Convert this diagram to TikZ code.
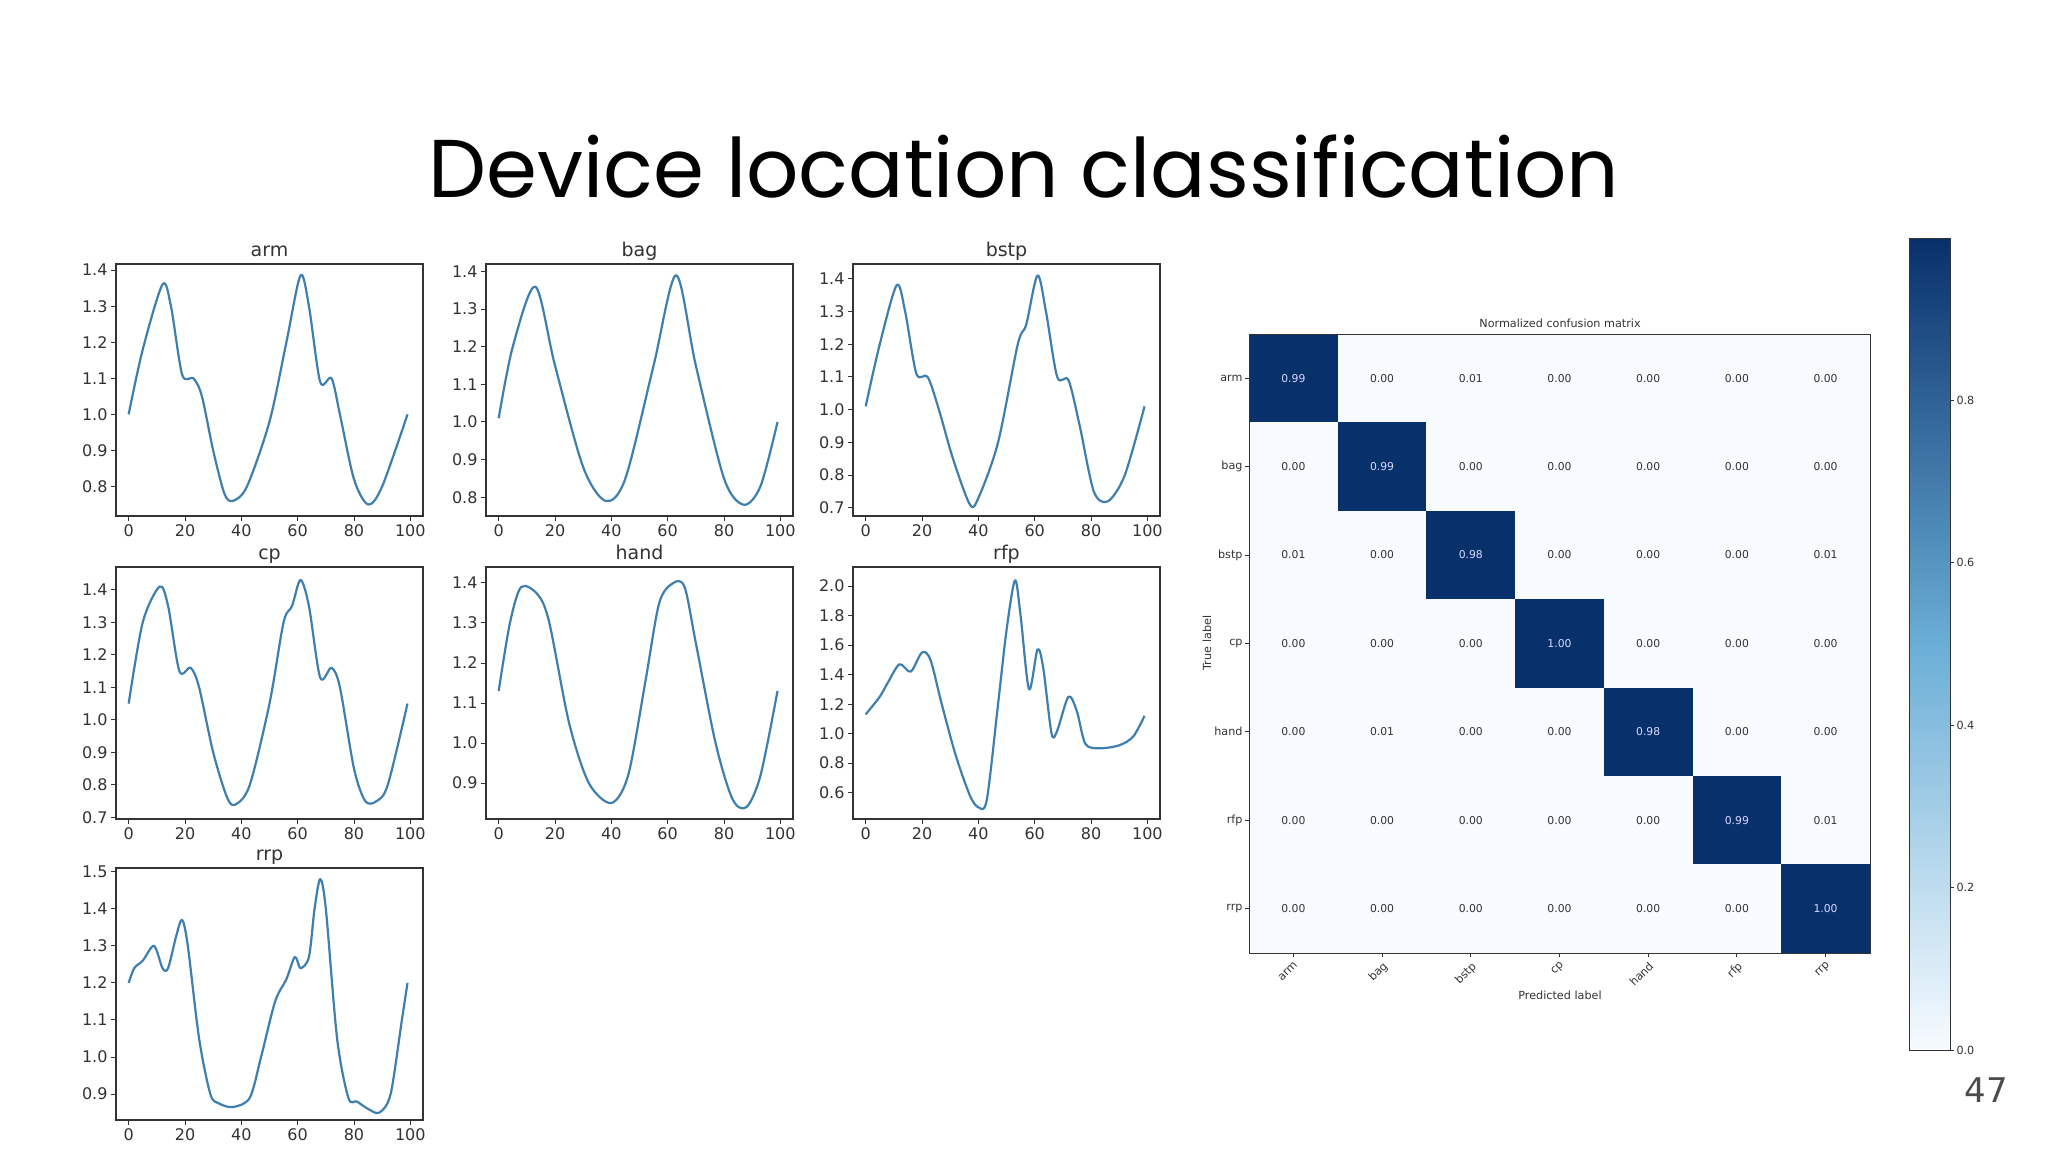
\documentclass[tikz,border=0pt]{standalone}
\usepackage{fontspec}
\setmainfont{DejaVu Sans}
\newfontfamily\titlefont{Poppins}
\definecolor{curvec}{HTML}{3F7FAF}
\definecolor{axc}{HTML}{333333}
\definecolor{bdark}{HTML}{08306B}
\definecolor{bmid}{HTML}{6AAED6}
\definecolor{blight}{HTML}{F7FBFF}
\tikzset{
  axisframe/.style={draw=axc,line width=0.6pt},
  tickln/.style={draw=axc,line width=0.5pt},
  ticklab/.style={font=\fontsize{8}{9}\selectfont,text=axc,inner sep=1.5pt},
  ptitle/.style={font=\fontsize{9.5}{10}\selectfont,text=axc,inner sep=1.5pt,anchor=south,text height=7pt,text depth=2pt},
  curve/.style={draw=curvec,line width=1.1pt,line join=round},
  cmlab/.style={font=\fontsize{5.6}{6}\selectfont,text=axc,inner sep=1pt},
  cmval/.style={font=\fontsize{5.4}{6}\selectfont,text=axc},
  cmdiag/.style={font=\fontsize{5.4}{6}\selectfont,text=blue!15!white},
}
\newcommand\panel[7]{%
  \draw[axisframe] (#1,#2) rectangle ++(307,252);
  \node[ptitle] (t#6) at (#1+153.5,#2) {#6};
  \pgfmathsetmacro\sx{307/109*0.5}
  \pgfmathsetmacro\sy{252/(#4-#3)*0.5}
  \begin{scope}[shift={(#1,#2+252)},x=\sx pt,y=\sy pt,shift={(4.5,-#3)}]
    \foreach \t in {#5}{
      \draw[tickln] (-4.5,\t) -- ++(-2.5pt,0) node[left,ticklab]{\t};}
    \foreach \t in {0,20,...,100}{
      \draw[tickln] (\t,#3) -- ++(0,-2.5pt) node[below,ticklab]{\t};}
    \draw[curve] plot[smooth,tension=0.5] coordinates {#7};
  \end{scope}}
\begin{document}
\begin{tikzpicture}[x=0.5pt,y=-0.5pt]
\useasboundingbox[fill=white] (0,0) rectangle (2048,1152);
\node[font=\titlefont\fontsize{41}{44}\selectfont] (title) at (1024,167) {Device location classification};
\node[font=\fontsize{17}{18}\selectfont,text=black!70] (pg) at (1986,1090) {47};
% panels
\panel{116}{264}{0.718}{1.417}{0.8,0.9,1.0,1.1,1.2,1.3,1.4}{arm}{(0,1.0)(5,1.18)(12,1.36)(15,1.3)(19,1.11)(23,1.1)(26,1.05)(30,0.9)(34,0.78)(37,0.76)(42,0.8)(50,0.98)(56,1.2)(61,1.385)(64,1.3)(68,1.09)(72,1.1)(75,1.0)(80,0.82)(85,0.75)(90,0.8)(99,1.0)}
\panel{486}{264}{0.75}{1.42}{0.8,0.9,1.0,1.1,1.2,1.3,1.4}{bag}{(0,1.01)(5,1.2)(13,1.36)(20,1.15)(30,0.88)(38,0.79)(45,0.85)(55,1.15)(63,1.39)(70,1.15)(80,0.85)(87,0.78)(93,0.83)(99,1.0)}
\panel{853}{264}{0.675}{1.445}{0.7,0.8,0.9,1.0,1.1,1.2,1.3,1.4}{bstp}{(0,1.01)(5,1.2)(11,1.38)(14,1.3)(18,1.11)(22,1.1)(26,1.0)(31,0.85)(37,0.71)(40,0.73)(47,0.9)(54,1.2)(57,1.26)(61,1.41)(64,1.3)(68,1.1)(72,1.09)(76,0.95)(81,0.75)(86,0.72)(92,0.8)(99,1.01)}
\panel{116}{567}{0.695}{1.47}{0.7,0.8,0.9,1.0,1.1,1.2,1.3,1.4}{cp}{(0,1.05)(5,1.3)(11,1.41)(14,1.35)(18,1.15)(22,1.16)(25,1.1)(30,0.9)(35,0.76)(38,0.74)(43,0.8)(50,1.05)(55,1.3)(58,1.35)(61,1.43)(64,1.35)(68,1.13)(72,1.16)(75,1.1)(80,0.85)(84,0.75)(88,0.75)(92,0.8)(99,1.05)}
\panel{486}{567}{0.81}{1.44}{0.9,1.0,1.1,1.2,1.3,1.4}{hand}{(0,1.13)(4,1.3)(8,1.39)(14,1.37)(18,1.3)(25,1.05)(32,0.9)(40,0.85)(46,0.92)(52,1.15)(57,1.35)(62,1.4)(66,1.39)(70,1.25)(77,1.0)(83,0.86)(88,0.84)(93,0.92)(99,1.13)}
\panel{853}{567}{0.42}{2.13}{0.6,0.8,1.0,1.2,1.4,1.6,1.8,2.0}{rfp}{(0,1.13)(5,1.25)(8,1.35)(12,1.47)(16,1.42)(20,1.55)(23,1.5)(27,1.2)(32,0.85)(37,0.58)(40,0.5)(43,0.55)(47,1.2)(50,1.7)(53,2.04)(55,1.8)(58,1.3)(61,1.57)(63,1.45)(66,1.0)(68,1.02)(72,1.25)(75,1.15)(78,0.93)(83,0.9)(90,0.92)(95,0.98)(99,1.12)}
\panel{116}{868}{0.83}{1.51}{0.9,1.0,1.1,1.2,1.3,1.4,1.5}{rrp}{(0,1.2)(2,1.24)(5,1.26)(9,1.3)(12,1.24)(14,1.24)(17,1.33)(19,1.37)(21,1.3)(25,1.05)(29,0.9)(32,0.875)(37,0.865)(43,0.89)(47,1.0)(52,1.15)(56,1.21)(59,1.27)(61,1.24)(64,1.27)(66,1.4)(68,1.48)(70,1.4)(74,1.05)(78,0.89)(81,0.88)(85,0.86)(89,0.85)(93,0.9)(97,1.1)(99,1.2)}
% confusion matrix
\fill[blight] (1249,334) rectangle (1870,953);
\foreach \r/\row in {0/{0.99,0.00,0.01,0.00,0.00,0.00,0.00},1/{0.00,0.99,0.00,0.00,0.00,0.00,0.00},2/{0.01,0.00,0.98,0.00,0.00,0.00,0.01},3/{0.00,0.00,0.00,1.00,0.00,0.00,0.00},4/{0.00,0.01,0.00,0.00,0.98,0.00,0.00},5/{0.00,0.00,0.00,0.00,0.00,0.99,0.01},6/{0.00,0.00,0.00,0.00,0.00,0.00,1.00}}{
  \foreach \v [count=\c from 0] in \row {
    \ifnum\c=\r
      \fill[bdark] (1249+88.7*\c,334+88.4*\r) rectangle ++(88.7,88.4);
      \node[cmdiag] (v\r\c) at (1249+88.7*\c+44.35,334+88.4*\r+44.2) {\v};
    \else
      \node[cmval] (v\r\c) at (1249+88.7*\c+44.35,334+88.4*\r+44.2) {\v};
    \fi}}
\draw[axc,line width=0.5pt] (1249,334) rectangle (1870,953);
\foreach \l [count=\i from 0] in {arm,bag,bstp,cp,hand,rfp,rrp}{
  \draw[tickln] (1249,334+88.4*\i+44.2) -- ++(-2pt,0) node[left,cmlab] (rl\i) {\l};
  \draw[tickln] (1249+88.7*\i+44.35,953) -- ++(0,-2pt) coordinate (cx\i);
  \node[cmlab,rotate=45,anchor=north east,inner sep=0.5pt] (cl\i) at ([yshift=-1pt]cx\i) {\l};}
\node[cmlab] (cmt) at (1560,323) {Normalized confusion matrix};
\node[cmlab,rotate=90] (tl) at (1207,643) {True label};
\node[cmlab] (pl) at (1560,995) {Predicted label};
% colorbar
\shade[top color=bdark,bottom color=blight,middle color=bmid] (1909,238) rectangle (1950,1050);
\draw[axc,line width=0.5pt] (1909,238) rectangle (1950,1050);
\foreach \t in {0,1,2,3,4}{
  \draw[tickln] (1950,1050-162.4*\t) -- ++(2pt,0) node[right,cmlab] (cb\t) {0.\the\numexpr2*\t\relax};}
\end{tikzpicture}
\end{document}
